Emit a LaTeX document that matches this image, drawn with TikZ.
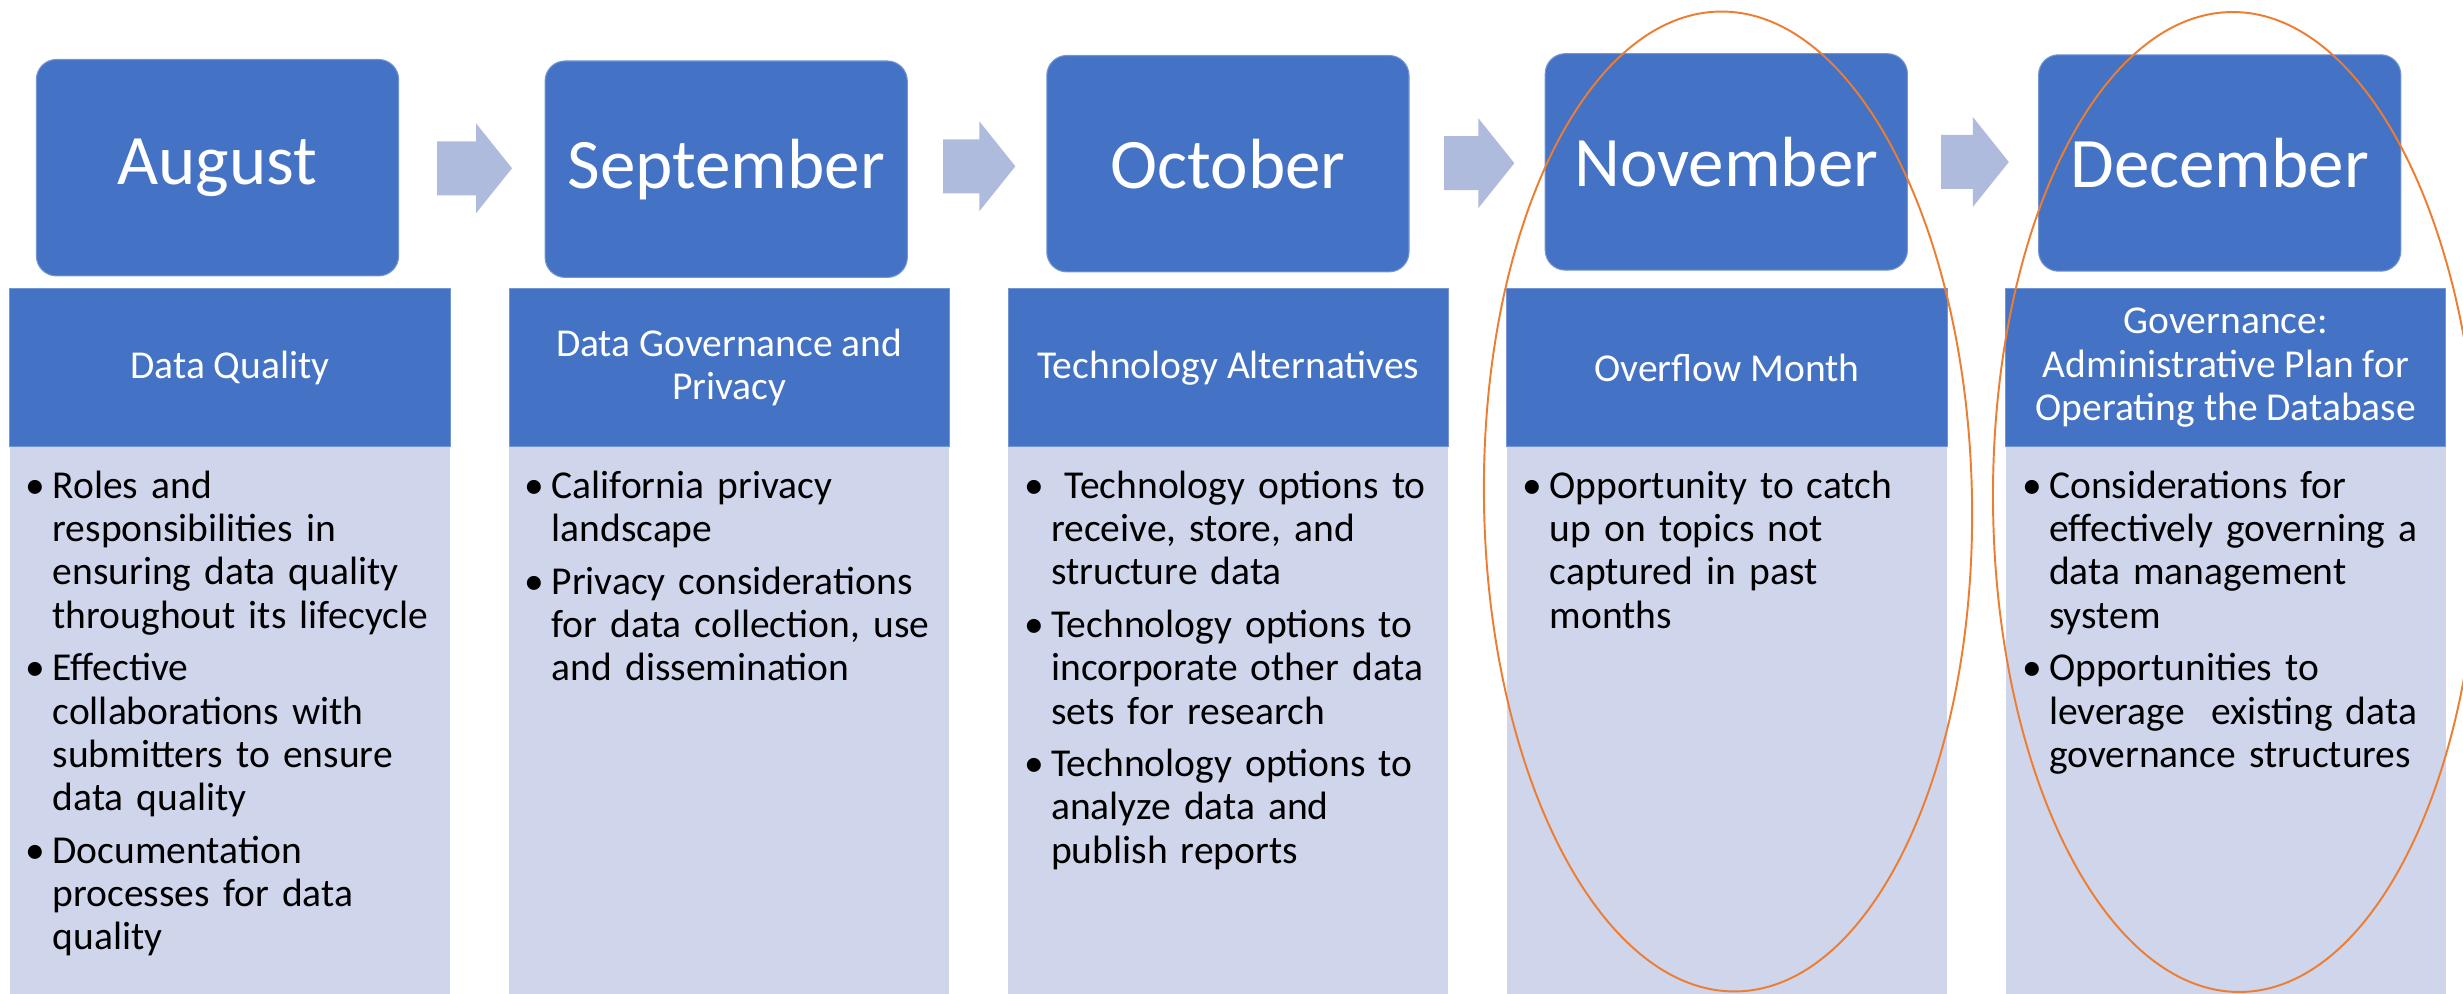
\documentclass[tikz,border=0pt]{standalone}
\usepackage{fontspec}
\setmainfont{Carlito}
\definecolor{boxblue}{HTML}{4472C4}
\definecolor{bodyfill}{HTML}{CFD5EA}
\definecolor{arrowfill}{HTML}{AFBBDD}
\definecolor{ringline}{HTML}{ED7D31}
\newcommand{\monthfont}{\fontsize{20.2pt}{24pt}\selectfont}
\newcommand{\bodyfont}{\fontsize{11.24pt}{12.32pt}\selectfont}
\newcommand{\bul}{\leavevmode\llap{\textbullet\hspace{2.0pt}}}
\newcommand{\nextitem}{\par\vspace{2.6pt}}
% block arrow: start x, tip x, centre y (pixel units)
\newcommand{\chev}[3]{%
  \fill[arrowfill] (#1,{#3-27}) -- ({#2-36},{#3-27}) -- ({#2-36},{#3-45}) -- (#2,#3)
    -- ({#2-36},{#3+45}) -- ({#2-36},{#3+27}) -- (#1,{#3+27}) -- cycle;}
\tikzset{
  monthbox/.style={rectangle, rounded corners=0.2cm, fill=boxblue, draw=boxblue!75!white,
    line width=0.3pt, text=white, font=\monthfont, minimum width=3.62cm,
    minimum height=2.163cm, inner sep=0pt},
  headbox/.style={rectangle, fill=boxblue, draw=boxblue!75!white, line width=0.3pt,
    text=white, font=\bodyfont, align=center, minimum width=4.4cm,
    minimum height=1.58cm, inner sep=0pt},
  panel/.style={rectangle, fill=bodyfill, minimum width=4.4cm, minimum height=5.473cm,
    inner sep=0pt},
  bodytext/.style={anchor=base west, text width=4.3cm, align=left, font=\bodyfont,
    inner sep=0pt, text=black},
  ring/.style={draw=ringline, line width=0.55pt}
}
\begin{document}
\begin{tikzpicture}[x=0.01cm, y=-0.01cm]
\useasboundingbox (0,0) rectangle (2463,994);

% month boxes
\node[monthbox] (aug) at (217.5,167.7) {August};
\node[monthbox] (sep) at (726.2,169.2) {September};
\node[monthbox] (oct) at (1227.9,163.7) {October};
\node[monthbox] (nov) at (1726.3,161.9) {November};
\node[monthbox] (dec) at (2219.7,163.0) {December};

% arrows between months
\chev{437}{512}{168.3}
\chev{943}{1015.3}{166.3}
\chev{1444}{1514.3}{163.2}
\chev{1941}{2008.8}{162}

% lower panels
\node[panel] (p1) at (230,720.35) {};
\node[panel] (p2) at (729.2,720.35) {};
\node[panel] (p3) at (1228.2,720.35) {};
\node[panel] (p4) at (1727,720.35) {};
\node[panel] (p5) at (2225.8,720.35) {};

% topic headings
\node[headbox] (h1) at (230,367.7) {Data Quality};
\node[headbox] (h2) at (729.2,367.7) {Data Governance and\\Privacy};
\node[headbox] (h3) at (1228.2,367.7) {Technology Alternatives};
\node[headbox] (h4) at (1727,367.7) {Overflow Month};
\node[headbox] (h5) at (2225.8,367.7) {Governance:\\Administrative Plan for\\Operating the Database};

% bullet lists
\node[bodytext] (t1) at (52,498.3) {%
  \bul Roles and\\ responsibilities in\\ ensuring data quality\\ throughout its lifecycle\nextitem
  \bul Effective\\ collaborations with\\ submitters to ensure\\ data quality\nextitem
  \bul Documentation\\ processes for data\\ quality};
\node[bodytext] (t2) at (551,498.3) {%
  \bul California privacy\\ landscape\nextitem
  \bul Privacy considerations\\ for data collection, use\\ and dissemination};
\node[bodytext] (t3) at (1050.5,498.3) {%
  \bul\ Technology options to\\ receive, store, and\\ structure data\nextitem
  \bul Technology options to\\ incorporate other data\\ sets for research\nextitem
  \bul Technology options to\\ analyze data and\\ publish reports};
\node[bodytext] (t4) at (1549,498.3) {%
  \bul Opportunity to catch\\ up on topics not\\ captured in past\\ months};
\node[bodytext] (t5) at (2048.5,498.3) {%
  \bul Considerations for\\ effectively governing a\\ data management\\ system\nextitem
  \bul Opportunities to\\ leverage\ \ existing data\\ governance structures};

% highlight rings
\begin{scope}
  \clip (0,0) rectangle (2463,994);
  \draw[ring, rotate around={1:(1728,501.5)}] (1728,501.5) ellipse [x radius=244, y radius=490];
  \draw[ring, rotate around={0.5:(2236,502)}] (2236,502) ellipse [x radius=243, y radius=490];
\end{scope}
\end{tikzpicture}
\end{document}
